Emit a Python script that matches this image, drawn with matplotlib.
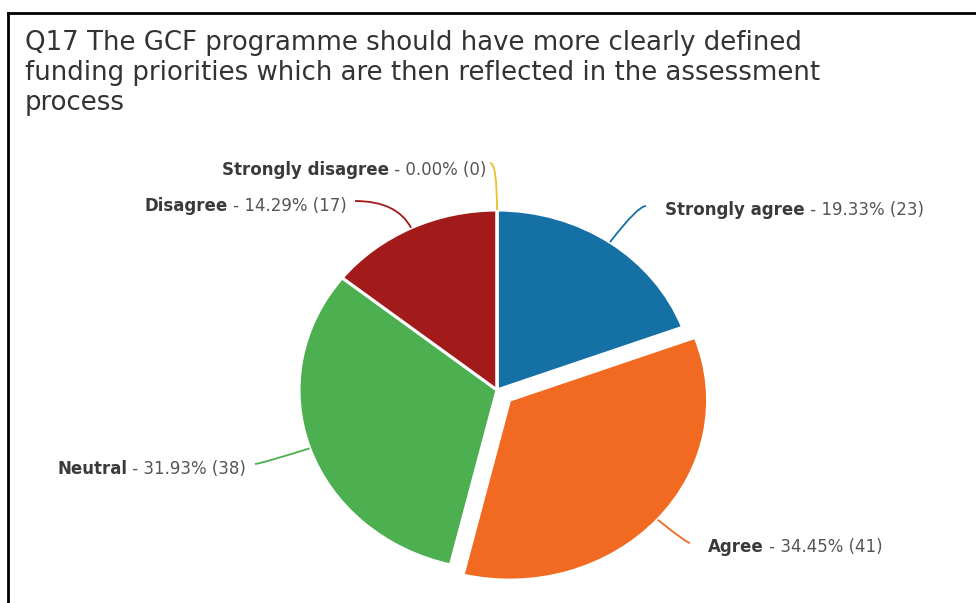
import matplotlib
matplotlib.use("Agg")
import numpy as np
import matplotlib.pyplot as plt
from matplotlib.path import Path
from matplotlib.patches import PathPatch
from matplotlib.lines import Line2D

# Survey responses
categories = ["Strongly agree", "Agree", "Neutral", "Disagree", "Strongly disagree"]
percentages = [19.33, 34.45, 31.93, 14.29, 0.00]
counts = [23, 41, 38, 17, 0]
colors = ["#1570a6", "#f26a21", "#4caf50", "#a21a1a", "#e8c12b"]
explode = [0, 0.085, 0, 0, 0]

title = ("Q17 The GCF programme should have more clearly defined\n"
         "funding priorities which are then reflected in the assessment\n"
         "process")

W, H = 976, 603
CX, CY, RX, RY = 497, 390, 198, 180  # pie centre and radii in pixels

plt.rcParams["font.family"] = ["DejaVu Sans"]

fig = plt.figure(figsize=(W / 100, H / 100), dpi=100)
fig.patch.set_facecolor("white")
ax = fig.add_axes([0, 0, 1, 1])

wedges, _ = ax.pie(percentages, colors=colors, startangle=90, counterclock=False,
                   explode=explode, radius=1,
                   wedgeprops=dict(edgecolor="white", linewidth=2.2))
ax.set_aspect("auto")
ax.set_xlim(-CX / RX, (W - CX) / RX)
ax.set_ylim((CY - H) / RY, CY / RY)
ax.axis("off")


def to_data(px, py):
    return (px - CX) / RX, (CY - py) / RY


# label layout: (line end x, line end y, text x, baseline y, side) in pixels
layout = {
    "Strongly agree": (646, 206, 665, 215, "left"),
    "Agree": (690, 543, 708, 552, "left"),
    "Neutral": (255, 464, 246, 474, "right"),
    "Disagree": (355, 201, 347, 211, "right"),
    "Strongly disagree": (490, 163, 486, 175, "right"),
}

name_color = "#3a3a3a"
value_color = "#555555"
fs = 12

for w, name, pct, n, col in zip(wedges, categories, percentages, counts, colors):
    ang = np.deg2rad((w.theta1 + w.theta2) / 2)
    cx, cy = w.center
    dx, dy = np.cos(ang), np.sin(ang)
    sx, sy = cx + w.r * dx, cy + w.r * dy
    ex_px, ey_px, tx_px, ty_px, side = layout[name]
    ex, ey = to_data(ex_px, ey_px)
    # control point where the radial direction meets the label's row
    t = (ey - cy) / dy if abs(dy) > 1e-6 else w.r * 1.2
    t = max(t, w.r)
    qx, qy = cx + t * dx, cy + t * dy
    path = Path([(sx, sy), (qx, qy), (ex, ey)], [Path.MOVETO, Path.CURVE3, Path.CURVE3])
    ax.add_patch(PathPatch(path, facecolor="none", edgecolor=col, linewidth=1.3))

    tx, ty = to_data(tx_px, ty_px)
    rest = f" - {pct:.2f}% ({n})"
    if side == "left":
        t1 = ax.text(tx, ty, name, ha="left", va="baseline", fontsize=fs,
                     fontweight="bold", color=name_color)
        ax.annotate(rest, xy=(1, ty), xycoords=(t1, "data"), ha="left",
                    va="baseline", fontsize=fs, color=value_color)
    else:
        t2 = ax.text(tx, ty, rest, ha="right", va="baseline", fontsize=fs,
                     color=value_color)
        ax.annotate(name, xy=(0, ty), xycoords=(t2, "data"), ha="right",
                    va="baseline", fontsize=fs, fontweight="bold", color=name_color)

fig.text(25 / W, 1 - 30 / H, title, ha="left", va="top", fontsize=18.7,
         color="#333333", linespacing=1.2)

# frame lines along the top and left
fig.add_artist(Line2D([8.3 / W, 1], [1 - 13 / H, 1 - 13 / H], color="black",
                      linewidth=2, transform=fig.transFigure))
fig.add_artist(Line2D([8.3 / W, 8.3 / W], [0, 1 - 13 / H], color="black",
                      linewidth=2, transform=fig.transFigure))

fig.savefig("out.png", dpi=100, facecolor="white")
